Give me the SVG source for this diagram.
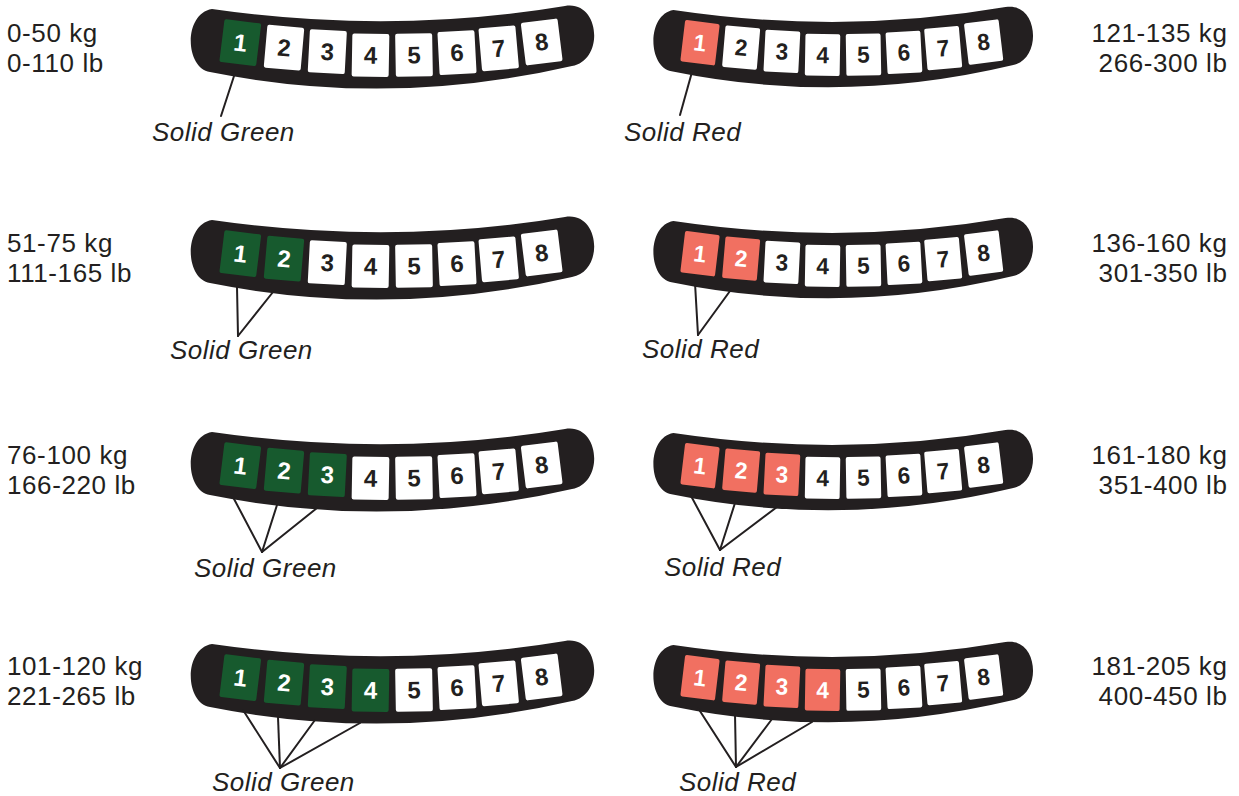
<svg xmlns="http://www.w3.org/2000/svg" xmlns:xlink="http://www.w3.org/1999/xlink" width="1239" height="796" viewBox="0 0 1239 796">
<style>
.w{font-family:"Liberation Sans",Arial,sans-serif;font-size:26px;letter-spacing:0.6px;fill:#231f20}
.we{text-anchor:end}
.lbl{font-family:"Liberation Sans",Arial,sans-serif;font-size:26px;letter-spacing:0.5px;font-style:italic;fill:#231f20}
.dg{font-family:"Liberation Sans",Arial,sans-serif;font-size:24px;font-weight:bold;text-anchor:middle}
.off{fill:#ffffff;color:#231f20}
.g{fill:#175a2e;color:#ffffff}
.r{fill:#f17061;color:#ffffff}
.bar{fill:#231f20}
.ld line{stroke:#231f20;stroke-width:2;stroke-linecap:round}
</style>
<defs>
<path id="shape" d="M212 9 Q392 35 565 6 C600 0 605 60 572 66 Q390 108 210 72 C185 68 183 14 212 9 Z"/>
<g id="k1" transform="translate(240.3 42.7) rotate(7)"><rect x="-18.5" y="-21.5" width="37" height="43" rx="2"/><text class="dg" y="8.3" fill="currentColor">1</text></g>
<g id="k2" transform="translate(284 47.7) rotate(5)"><rect x="-18.5" y="-21.5" width="37" height="43" rx="2"/><text class="dg" y="8.3" fill="currentColor">2</text></g>
<g id="k3" transform="translate(327.3 51.7) rotate(3)"><rect x="-18.5" y="-21.5" width="37" height="43" rx="2"/><text class="dg" y="8.3" fill="currentColor">3</text></g>
<g id="k4" transform="translate(370.5 55.3) rotate(1)"><rect x="-18.5" y="-21.5" width="37" height="43" rx="2"/><text class="dg" y="8.3" fill="currentColor">4</text></g>
<g id="k5" transform="translate(414 55) rotate(-1)"><rect x="-18.5" y="-21.5" width="37" height="43" rx="2"/><text class="dg" y="8.3" fill="currentColor">5</text></g>
<g id="k6" transform="translate(457 52.7) rotate(-3)"><rect x="-18.5" y="-21.5" width="37" height="43" rx="2"/><text class="dg" y="8.3" fill="currentColor">6</text></g>
<g id="k7" transform="translate(498.7 48.3) rotate(-5)"><rect x="-18.5" y="-21.5" width="37" height="43" rx="2"/><text class="dg" y="8.3" fill="currentColor">7</text></g>
<g id="k8" transform="translate(541.7 42) rotate(-7)"><rect x="-18.5" y="-21.5" width="37" height="43" rx="2"/><text class="dg" y="8.3" fill="currentColor">8</text></g>
</defs>
<rect width="1239" height="796" fill="#ffffff"/>

<g id="bar-left-1">
<use href="#shape" class="bar"/>
<use href="#k1" class="g"/><use href="#k2" class="off"/><use href="#k3" class="off"/><use href="#k4" class="off"/><use href="#k5" class="off"/><use href="#k6" class="off"/><use href="#k7" class="off"/><use href="#k8" class="off"/>
</g>
<g id="bar-right-1" transform="matrix(0.941 0 0 0.97 473.9 1.3)">
<use href="#shape" class="bar"/>
<use href="#k1" class="r"/><use href="#k2" class="off"/><use href="#k3" class="off"/><use href="#k4" class="off"/><use href="#k5" class="off"/><use href="#k6" class="off"/><use href="#k7" class="off"/><use href="#k8" class="off"/>
</g>
<g id="bar-left-2" transform="translate(0 211)">
<use href="#shape" class="bar"/>
<use href="#k1" class="g"/><use href="#k2" class="g"/><use href="#k3" class="off"/><use href="#k4" class="off"/><use href="#k5" class="off"/><use href="#k6" class="off"/><use href="#k7" class="off"/><use href="#k8" class="off"/>
</g>
<g id="bar-right-2" transform="matrix(0.941 0 0 0.97 473.9 212.3)">
<use href="#shape" class="bar"/>
<use href="#k1" class="r"/><use href="#k2" class="r"/><use href="#k3" class="off"/><use href="#k4" class="off"/><use href="#k5" class="off"/><use href="#k6" class="off"/><use href="#k7" class="off"/><use href="#k8" class="off"/>
</g>
<g id="bar-left-3" transform="translate(0 423)">
<use href="#shape" class="bar"/>
<use href="#k1" class="g"/><use href="#k2" class="g"/><use href="#k3" class="g"/><use href="#k4" class="off"/><use href="#k5" class="off"/><use href="#k6" class="off"/><use href="#k7" class="off"/><use href="#k8" class="off"/>
</g>
<g id="bar-right-3" transform="matrix(0.941 0 0 0.97 473.9 424.3)">
<use href="#shape" class="bar"/>
<use href="#k1" class="r"/><use href="#k2" class="r"/><use href="#k3" class="r"/><use href="#k4" class="off"/><use href="#k5" class="off"/><use href="#k6" class="off"/><use href="#k7" class="off"/><use href="#k8" class="off"/>
</g>
<g id="bar-left-4" transform="translate(0 635)">
<use href="#shape" class="bar"/>
<use href="#k1" class="g"/><use href="#k2" class="g"/><use href="#k3" class="g"/><use href="#k4" class="g"/><use href="#k5" class="off"/><use href="#k6" class="off"/><use href="#k7" class="off"/><use href="#k8" class="off"/>
</g>
<g id="bar-right-4" transform="matrix(0.941 0 0 0.97 473.9 636.3)">
<use href="#shape" class="bar"/>
<use href="#k1" class="r"/><use href="#k2" class="r"/><use href="#k3" class="r"/><use href="#k4" class="r"/><use href="#k5" class="off"/><use href="#k6" class="off"/><use href="#k7" class="off"/><use href="#k8" class="off"/>
</g>

<g id="connectors" class="ld">
<line x1="235" y1="73" x2="221" y2="116"/>
<line x1="692" y1="72" x2="680" y2="115"/>
<line x1="237" y1="287" x2="238" y2="336"/><line x1="273" y1="292" x2="238" y2="336"/>
<line x1="695" y1="283" x2="698" y2="335"/><line x1="730" y1="291" x2="698" y2="335"/>
<line x1="233" y1="497" x2="262" y2="552"/><line x1="277" y1="505" x2="262" y2="552"/><line x1="317" y1="508" x2="262" y2="552"/>
<line x1="690" y1="494" x2="720" y2="550"/><line x1="735" y1="503" x2="720" y2="550"/><line x1="777" y1="507" x2="720" y2="550"/>
<line x1="243" y1="710" x2="280" y2="768"/><line x1="278" y1="717" x2="280" y2="768"/><line x1="315" y1="720" x2="280" y2="768"/><line x1="360" y1="723" x2="280" y2="768"/>
<line x1="698" y1="708" x2="736" y2="767"/><line x1="735" y1="714" x2="736" y2="767"/><line x1="772" y1="719" x2="736" y2="767"/><line x1="812" y1="722" x2="736" y2="767"/>
</g>

<g id="labels">
<text class="lbl" x="152" y="141">Solid Green</text>
<text class="lbl" x="624" y="141">Solid Red</text>
<text class="lbl" x="170" y="359">Solid Green</text>
<text class="lbl" x="642" y="358">Solid Red</text>
<text class="lbl" x="194" y="577">Solid Green</text>
<text class="lbl" x="664" y="576">Solid Red</text>
<text class="lbl" x="212" y="791">Solid Green</text>
<text class="lbl" x="679" y="791">Solid Red</text>
</g>

<g id="weights-left">
<text class="w" x="7" y="42">0-50 kg</text>
<text class="w" x="7" y="72">0-110 lb</text>
<text class="w" x="7" y="252">51-75 kg</text>
<text class="w" x="7" y="282">111-165 lb</text>
<text class="w" x="7" y="464">76-100 kg</text>
<text class="w" x="7" y="494">166-220 lb</text>
<text class="w" x="7" y="675">101-120 kg</text>
<text class="w" x="7" y="705">221-265 lb</text>
</g>
<g id="weights-right">
<text class="w we" x="1227.5" y="42">121-135 kg</text>
<text class="w we" x="1227.5" y="72">266-300 lb</text>
<text class="w we" x="1227.5" y="252">136-160 kg</text>
<text class="w we" x="1227.5" y="282">301-350 lb</text>
<text class="w we" x="1227.5" y="464">161-180 kg</text>
<text class="w we" x="1227.5" y="494">351-400 lb</text>
<text class="w we" x="1227.5" y="675">181-205 kg</text>
<text class="w we" x="1227.5" y="705">400-450 lb</text>
</g>
</svg>
